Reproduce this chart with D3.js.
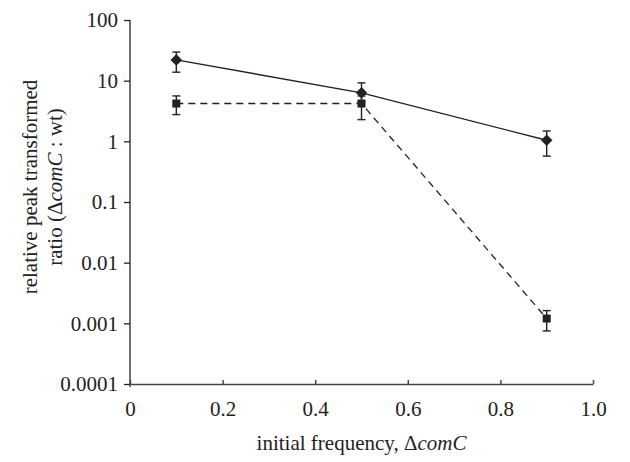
<!DOCTYPE html>
<html>
<head>
<meta charset="utf-8">
<script src="https://cdn.jsdelivr.net/npm/d3@7"></script>
<style>
  body { margin: 0; background: #fff; }
  text { font-family: "Liberation Serif", "DejaVu Serif", serif; fill: #222; }
</style>
</head>
<body>
<div id="chart"></div>
<script>
// data
var freq = [0.1, 0.5, 0.9];
var diamondVals = [22, 6.3, 1.04];
var diamondLo = [13.8, 4.5, 0.57];
var diamondHi = [29.6, 9.2, 1.48];
var squareVals = [4.2, 4.2, 0.0012];
var squareLo = [2.76, 2.28, 0.00075];
var squareHi = [5.6, 5.6, 0.00162];
var xTicks = [0, 0.2, 0.4, 0.6, 0.8, 1.0];
var yTicks = [0.0001, 0.001, 0.01, 0.1, 1, 10, 100];

var width = 630, height = 462;
var margin = {left: 130, right: 37, top: 20, bottom: 78};
var fs = "21px";

var svg = d3.select("#chart").append("svg")
  .attr("width", width)
  .attr("height", height);

var x = d3.scaleLinear().domain([0, 1]).range([margin.left, width - margin.right]);
var y = d3.scaleLog().domain([0.0001, 100]).range([height - margin.bottom, margin.top]);

var ink = "#222";

// y axis
var yAxis = svg.append("g")
  .attr("transform", "translate(" + margin.left + ",0)")
  .call(d3.axisLeft(y).tickValues(yTicks).tickSize(6).tickPadding(6)
    .tickFormat(function(d) { return d >= 1 ? d3.format("d")(d) : String(d); }));
yAxis.select(".domain").attr("d", "M0," + (margin.top) + "V" + (height - margin.bottom + 3));
yAxis.selectAll("line, path").attr("stroke", ink).attr("stroke-width", 1.3);
yAxis.selectAll("text").style("font-size", fs).attr("fill", ink)
  .style("font-family", "Liberation Serif");

// x axis
var xAxis = svg.append("g")
  .attr("transform", "translate(0," + (height - margin.bottom) + ")")
  .call(d3.axisBottom(x).tickValues(xTicks).tickSizeInner(-4).tickSizeOuter(0).tickPadding(17)
    .tickFormat(function(d) { return d === 0 ? "0" : d3.format(".1f")(d); }));
xAxis.selectAll("line, path").attr("stroke", "#444").attr("stroke-width", 1.5);
xAxis.selectAll("text").style("font-size", fs).attr("fill", ink)
  .style("font-family", "Liberation Serif");

// axis titles
var xt = svg.append("text")
  .attr("x", (margin.left + width - margin.right) / 2)
  .attr("y", 450)
  .attr("text-anchor", "middle")
  .style("font-size", fs);
xt.append("tspan").text("initial frequency, \u0394");
xt.append("tspan").style("font-style", "italic").text("comC");

svg.append("text")
  .attr("transform", "translate(37,187) rotate(-90)")
  .attr("text-anchor", "middle")
  .style("font-size", fs)
  .text("relative peak transformed");

var yt2 = svg.append("text")
  .attr("transform", "translate(62,187) rotate(-90)")
  .attr("text-anchor", "middle")
  .style("font-size", fs);
yt2.append("tspan").text("ratio (\u0394");
yt2.append("tspan").style("font-style", "italic").text("comC");
yt2.append("tspan").text(" : wt)");

var line = d3.line().x(function(d) { return x(d[0]); }).y(function(d) { return y(d[1]); });

// series lines
svg.append("path")
  .datum(d3.zip(freq, squareVals))
  .attr("d", line)
  .attr("fill", "none")
  .attr("stroke", ink)
  .attr("stroke-width", 1.3)
  .attr("stroke-dasharray", "7,5");

svg.append("path")
  .datum(d3.zip(freq, diamondVals))
  .attr("d", line)
  .attr("fill", "none")
  .attr("stroke", ink)
  .attr("stroke-width", 1.4);

// error bars
function errBars(lo, hi) {
  var g = svg.append("g").attr("stroke", ink).attr("stroke-width", 1.4);
  freq.forEach(function(f, i) {
    var cx = x(f);
    g.append("line").attr("x1", cx).attr("x2", cx).attr("y1", y(lo[i])).attr("y2", y(hi[i]));
    g.append("line").attr("x1", cx - 4).attr("x2", cx + 4).attr("y1", y(lo[i])).attr("y2", y(lo[i]));
    g.append("line").attr("x1", cx - 4).attr("x2", cx + 4).attr("y1", y(hi[i])).attr("y2", y(hi[i]));
  });
}
errBars(squareLo, squareHi);
errBars(diamondLo, diamondHi);

// markers
svg.selectAll(".sq").data(d3.zip(freq, squareVals)).enter()
  .append("rect")
  .attr("class", "sq")
  .attr("x", function(d) { return x(d[0]) - 4; })
  .attr("y", function(d) { return y(d[1]) - 4; })
  .attr("width", 8).attr("height", 8)
  .attr("fill", ink);

svg.selectAll(".dm").data(d3.zip(freq, diamondVals)).enter()
  .append("path")
  .attr("class", "dm")
  .attr("d", d3.symbol().type(d3.symbolDiamond2).size(85))
  .attr("transform", function(d) { return "translate(" + x(d[0]) + "," + y(d[1]) + ")"; })
  .attr("fill", ink);
</script>
</body>
</html>
